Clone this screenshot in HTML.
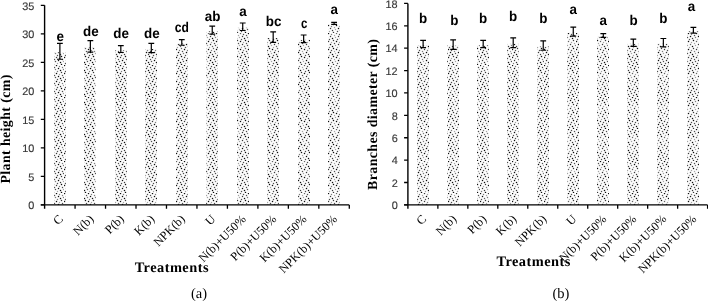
<!DOCTYPE html>
<html><head><meta charset="utf-8"><style>
html,body{margin:0;padding:0;background:#fff;width:708px;height:301px;overflow:hidden}
svg{display:block;will-change:transform;text-rendering:geometricPrecision}
.yt{font-family:"Liberation Sans",sans-serif;font-size:10.9px;fill:#383838;stroke:#383838;stroke-width:0.15px;text-anchor:end}
.lt{font-family:"Liberation Sans",sans-serif;font-size:13.4px;font-weight:bold;fill:#000;text-anchor:middle}
.xl{font-family:"Liberation Serif",serif;font-size:12.2px;fill:#000;text-anchor:end}
.yti{font-family:"Liberation Serif",serif;font-size:13.9px;letter-spacing:0.4px;font-weight:bold;fill:#000;text-anchor:middle}
.tre{font-family:"Liberation Serif",serif;font-size:14.4px;letter-spacing:0.45px;font-weight:bold;fill:#000;text-anchor:middle}
.sub{font-family:"Liberation Serif",serif;font-size:14.5px;fill:#000;text-anchor:middle}
</style></head><body>
<svg width="708" height="301" viewBox="0 0 708 301">
<defs><filter id="bl" x="-10%" y="-2%" width="120%" height="104%"><feGaussianBlur stdDeviation="0.55"/></filter><pattern id="pL" patternUnits="userSpaceOnUse" x="0" y="1" width="32" height="32"><rect x="-0.15" y="-0.15" width="1.3" height="1.3" fill="rgb(15,15,15)"/><rect x="7.85" y="-0.15" width="1.3" height="1.3" fill="rgb(15,15,15)"/><rect x="15.85" y="-0.15" width="1.3" height="1.3" fill="rgb(100,100,100)"/><rect x="23.85" y="-0.15" width="1.3" height="1.3" fill="rgb(15,15,15)"/><rect x="2.85" y="0.85" width="1.3" height="1.3" fill="rgb(125,125,125)"/><rect x="10.85" y="0.85" width="1.3" height="1.3" fill="rgb(125,125,125)"/><rect x="18.85" y="0.85" width="1.3" height="1.3" fill="rgb(80,80,80)"/><rect x="26.85" y="0.85" width="1.3" height="1.3" fill="rgb(125,125,125)"/><rect x="5.85" y="1.85" width="1.3" height="1.3" fill="rgb(125,125,125)"/><rect x="13.85" y="1.85" width="1.3" height="1.3" fill="rgb(165,165,165)"/><rect x="21.85" y="1.85" width="1.3" height="1.3" fill="rgb(80,80,80)"/><rect x="29.85" y="1.85" width="1.3" height="1.3" fill="rgb(125,125,125)"/><rect x="1.85" y="2.85" width="1.3" height="1.3" fill="rgb(15,15,15)"/><rect x="9.85" y="2.85" width="1.3" height="1.3" fill="rgb(55,55,55)"/><rect x="17.85" y="2.85" width="1.3" height="1.3" fill="rgb(55,55,55)"/><rect x="25.85" y="2.85" width="1.3" height="1.3" fill="rgb(15,15,15)"/><rect x="6.85" y="3.85" width="1.3" height="1.3" fill="rgb(165,165,165)"/><rect x="14.85" y="3.85" width="1.3" height="1.3" fill="rgb(165,165,165)"/><rect x="22.85" y="3.85" width="1.3" height="1.3" fill="rgb(125,125,125)"/><rect x="30.85" y="3.85" width="1.3" height="1.3" fill="rgb(125,125,125)"/><rect x="3.85" y="4.85" width="1.3" height="1.3" fill="rgb(15,15,15)"/><rect x="11.85" y="4.85" width="1.3" height="1.3" fill="rgb(15,15,15)"/><rect x="19.85" y="4.85" width="1.3" height="1.3" fill="rgb(15,15,15)"/><rect x="27.85" y="4.85" width="1.3" height="1.3" fill="rgb(15,15,15)"/><rect x="0.85" y="5.85" width="1.3" height="1.3" fill="rgb(80,80,80)"/><rect x="8.85" y="5.85" width="1.3" height="1.3" fill="rgb(80,80,80)"/><rect x="16.85" y="5.85" width="1.3" height="1.3" fill="rgb(80,80,80)"/><rect x="24.85" y="5.85" width="1.3" height="1.3" fill="rgb(125,125,125)"/><rect x="4.85" y="6.85" width="1.3" height="1.3" fill="rgb(15,15,15)"/><rect x="12.85" y="6.85" width="1.3" height="1.3" fill="rgb(55,55,55)"/><rect x="20.85" y="6.85" width="1.3" height="1.3" fill="rgb(15,15,15)"/><rect x="28.85" y="6.85" width="1.3" height="1.3" fill="rgb(55,55,55)"/><rect x="-0.15" y="7.85" width="1.3" height="1.3" fill="rgb(15,15,15)"/><rect x="7.85" y="7.85" width="1.3" height="1.3" fill="rgb(55,55,55)"/><rect x="15.85" y="7.85" width="1.3" height="1.3" fill="rgb(15,15,15)"/><rect x="23.85" y="7.85" width="1.3" height="1.3" fill="rgb(15,15,15)"/><rect x="2.85" y="8.85" width="1.3" height="1.3" fill="rgb(165,165,165)"/><rect x="10.85" y="8.85" width="1.3" height="1.3" fill="rgb(165,165,165)"/><rect x="18.85" y="8.85" width="1.3" height="1.3" fill="rgb(165,165,165)"/><rect x="26.85" y="8.85" width="1.3" height="1.3" fill="rgb(165,165,165)"/><rect x="5.85" y="9.85" width="1.3" height="1.3" fill="rgb(125,125,125)"/><rect x="13.85" y="9.85" width="1.3" height="1.3" fill="rgb(80,80,80)"/><rect x="21.85" y="9.85" width="1.3" height="1.3" fill="rgb(80,80,80)"/><rect x="29.85" y="9.85" width="1.3" height="1.3" fill="rgb(80,80,80)"/><rect x="1.85" y="10.85" width="1.3" height="1.3" fill="rgb(55,55,55)"/><rect x="9.85" y="10.85" width="1.3" height="1.3" fill="rgb(15,15,15)"/><rect x="17.85" y="10.85" width="1.3" height="1.3" fill="rgb(55,55,55)"/><rect x="25.85" y="10.85" width="1.3" height="1.3" fill="rgb(15,15,15)"/><rect x="6.85" y="11.85" width="1.3" height="1.3" fill="rgb(165,165,165)"/><rect x="14.85" y="11.85" width="1.3" height="1.3" fill="rgb(165,165,165)"/><rect x="22.85" y="11.85" width="1.3" height="1.3" fill="rgb(80,80,80)"/><rect x="30.85" y="11.85" width="1.3" height="1.3" fill="rgb(80,80,80)"/><rect x="3.85" y="12.85" width="1.3" height="1.3" fill="rgb(100,100,100)"/><rect x="11.85" y="12.85" width="1.3" height="1.3" fill="rgb(15,15,15)"/><rect x="19.85" y="12.85" width="1.3" height="1.3" fill="rgb(100,100,100)"/><rect x="27.85" y="12.85" width="1.3" height="1.3" fill="rgb(15,15,15)"/><rect x="0.85" y="13.85" width="1.3" height="1.3" fill="rgb(80,80,80)"/><rect x="8.85" y="13.85" width="1.3" height="1.3" fill="rgb(125,125,125)"/><rect x="16.85" y="13.85" width="1.3" height="1.3" fill="rgb(165,165,165)"/><rect x="24.85" y="13.85" width="1.3" height="1.3" fill="rgb(80,80,80)"/><rect x="4.85" y="14.85" width="1.3" height="1.3" fill="rgb(15,15,15)"/><rect x="12.85" y="14.85" width="1.3" height="1.3" fill="rgb(15,15,15)"/><rect x="20.85" y="14.85" width="1.3" height="1.3" fill="rgb(100,100,100)"/><rect x="28.85" y="14.85" width="1.3" height="1.3" fill="rgb(55,55,55)"/><rect x="-0.15" y="15.85" width="1.3" height="1.3" fill="rgb(15,15,15)"/><rect x="7.85" y="15.85" width="1.3" height="1.3" fill="rgb(15,15,15)"/><rect x="15.85" y="15.85" width="1.3" height="1.3" fill="rgb(15,15,15)"/><rect x="23.85" y="15.85" width="1.3" height="1.3" fill="rgb(15,15,15)"/><rect x="2.85" y="16.85" width="1.3" height="1.3" fill="rgb(165,165,165)"/><rect x="10.85" y="16.85" width="1.3" height="1.3" fill="rgb(80,80,80)"/><rect x="18.85" y="16.85" width="1.3" height="1.3" fill="rgb(125,125,125)"/><rect x="26.85" y="16.85" width="1.3" height="1.3" fill="rgb(125,125,125)"/><rect x="5.85" y="17.85" width="1.3" height="1.3" fill="rgb(80,80,80)"/><rect x="13.85" y="17.85" width="1.3" height="1.3" fill="rgb(165,165,165)"/><rect x="21.85" y="17.85" width="1.3" height="1.3" fill="rgb(80,80,80)"/><rect x="29.85" y="17.85" width="1.3" height="1.3" fill="rgb(125,125,125)"/><rect x="1.85" y="18.85" width="1.3" height="1.3" fill="rgb(15,15,15)"/><rect x="9.85" y="18.85" width="1.3" height="1.3" fill="rgb(15,15,15)"/><rect x="17.85" y="18.85" width="1.3" height="1.3" fill="rgb(15,15,15)"/><rect x="25.85" y="18.85" width="1.3" height="1.3" fill="rgb(15,15,15)"/><rect x="6.85" y="19.85" width="1.3" height="1.3" fill="rgb(165,165,165)"/><rect x="14.85" y="19.85" width="1.3" height="1.3" fill="rgb(165,165,165)"/><rect x="22.85" y="19.85" width="1.3" height="1.3" fill="rgb(125,125,125)"/><rect x="30.85" y="19.85" width="1.3" height="1.3" fill="rgb(165,165,165)"/><rect x="3.85" y="20.85" width="1.3" height="1.3" fill="rgb(15,15,15)"/><rect x="11.85" y="20.85" width="1.3" height="1.3" fill="rgb(15,15,15)"/><rect x="19.85" y="20.85" width="1.3" height="1.3" fill="rgb(55,55,55)"/><rect x="27.85" y="20.85" width="1.3" height="1.3" fill="rgb(55,55,55)"/><rect x="0.85" y="21.85" width="1.3" height="1.3" fill="rgb(80,80,80)"/><rect x="8.85" y="21.85" width="1.3" height="1.3" fill="rgb(165,165,165)"/><rect x="16.85" y="21.85" width="1.3" height="1.3" fill="rgb(80,80,80)"/><rect x="24.85" y="21.85" width="1.3" height="1.3" fill="rgb(80,80,80)"/><rect x="4.85" y="22.85" width="1.3" height="1.3" fill="rgb(55,55,55)"/><rect x="12.85" y="22.85" width="1.3" height="1.3" fill="rgb(15,15,15)"/><rect x="20.85" y="22.85" width="1.3" height="1.3" fill="rgb(15,15,15)"/><rect x="28.85" y="22.85" width="1.3" height="1.3" fill="rgb(15,15,15)"/><rect x="-0.15" y="23.85" width="1.3" height="1.3" fill="rgb(15,15,15)"/><rect x="7.85" y="23.85" width="1.3" height="1.3" fill="rgb(15,15,15)"/><rect x="15.85" y="23.85" width="1.3" height="1.3" fill="rgb(15,15,15)"/><rect x="23.85" y="23.85" width="1.3" height="1.3" fill="rgb(55,55,55)"/><rect x="2.85" y="24.85" width="1.3" height="1.3" fill="rgb(125,125,125)"/><rect x="10.85" y="24.85" width="1.3" height="1.3" fill="rgb(125,125,125)"/><rect x="18.85" y="24.85" width="1.3" height="1.3" fill="rgb(165,165,165)"/><rect x="26.85" y="24.85" width="1.3" height="1.3" fill="rgb(125,125,125)"/><rect x="5.85" y="25.85" width="1.3" height="1.3" fill="rgb(125,125,125)"/><rect x="13.85" y="25.85" width="1.3" height="1.3" fill="rgb(165,165,165)"/><rect x="21.85" y="25.85" width="1.3" height="1.3" fill="rgb(80,80,80)"/><rect x="29.85" y="25.85" width="1.3" height="1.3" fill="rgb(80,80,80)"/><rect x="1.85" y="26.85" width="1.3" height="1.3" fill="rgb(100,100,100)"/><rect x="9.85" y="26.85" width="1.3" height="1.3" fill="rgb(55,55,55)"/><rect x="17.85" y="26.85" width="1.3" height="1.3" fill="rgb(15,15,15)"/><rect x="25.85" y="26.85" width="1.3" height="1.3" fill="rgb(15,15,15)"/><rect x="6.85" y="27.85" width="1.3" height="1.3" fill="rgb(165,165,165)"/><rect x="14.85" y="27.85" width="1.3" height="1.3" fill="rgb(165,165,165)"/><rect x="22.85" y="27.85" width="1.3" height="1.3" fill="rgb(80,80,80)"/><rect x="30.85" y="27.85" width="1.3" height="1.3" fill="rgb(165,165,165)"/><rect x="3.85" y="28.85" width="1.3" height="1.3" fill="rgb(55,55,55)"/><rect x="11.85" y="28.85" width="1.3" height="1.3" fill="rgb(55,55,55)"/><rect x="19.85" y="28.85" width="1.3" height="1.3" fill="rgb(15,15,15)"/><rect x="27.85" y="28.85" width="1.3" height="1.3" fill="rgb(15,15,15)"/><rect x="0.85" y="29.85" width="1.3" height="1.3" fill="rgb(80,80,80)"/><rect x="8.85" y="29.85" width="1.3" height="1.3" fill="rgb(165,165,165)"/><rect x="16.85" y="29.85" width="1.3" height="1.3" fill="rgb(80,80,80)"/><rect x="24.85" y="29.85" width="1.3" height="1.3" fill="rgb(165,165,165)"/><rect x="4.85" y="30.85" width="1.3" height="1.3" fill="rgb(15,15,15)"/><rect x="12.85" y="30.85" width="1.3" height="1.3" fill="rgb(55,55,55)"/><rect x="20.85" y="30.85" width="1.3" height="1.3" fill="rgb(15,15,15)"/><rect x="28.85" y="30.85" width="1.3" height="1.3" fill="rgb(15,15,15)"/></pattern><pattern id="pR" patternUnits="userSpaceOnUse" x="0" y="1" width="32" height="32"><rect x="-0.15" y="-0.15" width="1.3" height="1.3" fill="rgb(15,15,15)"/><rect x="7.85" y="-0.15" width="1.3" height="1.3" fill="rgb(55,55,55)"/><rect x="15.85" y="-0.15" width="1.3" height="1.3" fill="rgb(15,15,15)"/><rect x="23.85" y="-0.15" width="1.3" height="1.3" fill="rgb(15,15,15)"/><rect x="2.85" y="0.85" width="1.3" height="1.3" fill="rgb(125,125,125)"/><rect x="10.85" y="0.85" width="1.3" height="1.3" fill="rgb(165,165,165)"/><rect x="18.85" y="0.85" width="1.3" height="1.3" fill="rgb(125,125,125)"/><rect x="26.85" y="0.85" width="1.3" height="1.3" fill="rgb(80,80,80)"/><rect x="5.85" y="1.85" width="1.3" height="1.3" fill="rgb(165,165,165)"/><rect x="13.85" y="1.85" width="1.3" height="1.3" fill="rgb(80,80,80)"/><rect x="21.85" y="1.85" width="1.3" height="1.3" fill="rgb(80,80,80)"/><rect x="29.85" y="1.85" width="1.3" height="1.3" fill="rgb(80,80,80)"/><rect x="1.85" y="2.85" width="1.3" height="1.3" fill="rgb(15,15,15)"/><rect x="9.85" y="2.85" width="1.3" height="1.3" fill="rgb(15,15,15)"/><rect x="17.85" y="2.85" width="1.3" height="1.3" fill="rgb(15,15,15)"/><rect x="25.85" y="2.85" width="1.3" height="1.3" fill="rgb(15,15,15)"/><rect x="6.85" y="3.85" width="1.3" height="1.3" fill="rgb(125,125,125)"/><rect x="14.85" y="3.85" width="1.3" height="1.3" fill="rgb(80,80,80)"/><rect x="22.85" y="3.85" width="1.3" height="1.3" fill="rgb(125,125,125)"/><rect x="30.85" y="3.85" width="1.3" height="1.3" fill="rgb(165,165,165)"/><rect x="3.85" y="4.85" width="1.3" height="1.3" fill="rgb(100,100,100)"/><rect x="11.85" y="4.85" width="1.3" height="1.3" fill="rgb(55,55,55)"/><rect x="19.85" y="4.85" width="1.3" height="1.3" fill="rgb(55,55,55)"/><rect x="27.85" y="4.85" width="1.3" height="1.3" fill="rgb(15,15,15)"/><rect x="0.85" y="5.85" width="1.3" height="1.3" fill="rgb(80,80,80)"/><rect x="8.85" y="5.85" width="1.3" height="1.3" fill="rgb(80,80,80)"/><rect x="16.85" y="5.85" width="1.3" height="1.3" fill="rgb(80,80,80)"/><rect x="24.85" y="5.85" width="1.3" height="1.3" fill="rgb(165,165,165)"/><rect x="4.85" y="6.85" width="1.3" height="1.3" fill="rgb(55,55,55)"/><rect x="12.85" y="6.85" width="1.3" height="1.3" fill="rgb(100,100,100)"/><rect x="20.85" y="6.85" width="1.3" height="1.3" fill="rgb(15,15,15)"/><rect x="28.85" y="6.85" width="1.3" height="1.3" fill="rgb(55,55,55)"/><rect x="-0.15" y="7.85" width="1.3" height="1.3" fill="rgb(15,15,15)"/><rect x="7.85" y="7.85" width="1.3" height="1.3" fill="rgb(55,55,55)"/><rect x="15.85" y="7.85" width="1.3" height="1.3" fill="rgb(15,15,15)"/><rect x="23.85" y="7.85" width="1.3" height="1.3" fill="rgb(100,100,100)"/><rect x="2.85" y="8.85" width="1.3" height="1.3" fill="rgb(80,80,80)"/><rect x="10.85" y="8.85" width="1.3" height="1.3" fill="rgb(125,125,125)"/><rect x="18.85" y="8.85" width="1.3" height="1.3" fill="rgb(165,165,165)"/><rect x="26.85" y="8.85" width="1.3" height="1.3" fill="rgb(165,165,165)"/><rect x="5.85" y="9.85" width="1.3" height="1.3" fill="rgb(165,165,165)"/><rect x="13.85" y="9.85" width="1.3" height="1.3" fill="rgb(165,165,165)"/><rect x="21.85" y="9.85" width="1.3" height="1.3" fill="rgb(165,165,165)"/><rect x="29.85" y="9.85" width="1.3" height="1.3" fill="rgb(165,165,165)"/><rect x="1.85" y="10.85" width="1.3" height="1.3" fill="rgb(15,15,15)"/><rect x="9.85" y="10.85" width="1.3" height="1.3" fill="rgb(55,55,55)"/><rect x="17.85" y="10.85" width="1.3" height="1.3" fill="rgb(100,100,100)"/><rect x="25.85" y="10.85" width="1.3" height="1.3" fill="rgb(55,55,55)"/><rect x="6.85" y="11.85" width="1.3" height="1.3" fill="rgb(125,125,125)"/><rect x="14.85" y="11.85" width="1.3" height="1.3" fill="rgb(165,165,165)"/><rect x="22.85" y="11.85" width="1.3" height="1.3" fill="rgb(165,165,165)"/><rect x="30.85" y="11.85" width="1.3" height="1.3" fill="rgb(125,125,125)"/><rect x="3.85" y="12.85" width="1.3" height="1.3" fill="rgb(55,55,55)"/><rect x="11.85" y="12.85" width="1.3" height="1.3" fill="rgb(15,15,15)"/><rect x="19.85" y="12.85" width="1.3" height="1.3" fill="rgb(15,15,15)"/><rect x="27.85" y="12.85" width="1.3" height="1.3" fill="rgb(55,55,55)"/><rect x="0.85" y="13.85" width="1.3" height="1.3" fill="rgb(80,80,80)"/><rect x="8.85" y="13.85" width="1.3" height="1.3" fill="rgb(125,125,125)"/><rect x="16.85" y="13.85" width="1.3" height="1.3" fill="rgb(165,165,165)"/><rect x="24.85" y="13.85" width="1.3" height="1.3" fill="rgb(165,165,165)"/><rect x="4.85" y="14.85" width="1.3" height="1.3" fill="rgb(55,55,55)"/><rect x="12.85" y="14.85" width="1.3" height="1.3" fill="rgb(15,15,15)"/><rect x="20.85" y="14.85" width="1.3" height="1.3" fill="rgb(55,55,55)"/><rect x="28.85" y="14.85" width="1.3" height="1.3" fill="rgb(15,15,15)"/><rect x="-0.15" y="15.85" width="1.3" height="1.3" fill="rgb(15,15,15)"/><rect x="7.85" y="15.85" width="1.3" height="1.3" fill="rgb(55,55,55)"/><rect x="15.85" y="15.85" width="1.3" height="1.3" fill="rgb(15,15,15)"/><rect x="23.85" y="15.85" width="1.3" height="1.3" fill="rgb(55,55,55)"/><rect x="2.85" y="16.85" width="1.3" height="1.3" fill="rgb(80,80,80)"/><rect x="10.85" y="16.85" width="1.3" height="1.3" fill="rgb(125,125,125)"/><rect x="18.85" y="16.85" width="1.3" height="1.3" fill="rgb(125,125,125)"/><rect x="26.85" y="16.85" width="1.3" height="1.3" fill="rgb(80,80,80)"/><rect x="5.85" y="17.85" width="1.3" height="1.3" fill="rgb(125,125,125)"/><rect x="13.85" y="17.85" width="1.3" height="1.3" fill="rgb(125,125,125)"/><rect x="21.85" y="17.85" width="1.3" height="1.3" fill="rgb(125,125,125)"/><rect x="29.85" y="17.85" width="1.3" height="1.3" fill="rgb(165,165,165)"/><rect x="1.85" y="18.85" width="1.3" height="1.3" fill="rgb(15,15,15)"/><rect x="9.85" y="18.85" width="1.3" height="1.3" fill="rgb(15,15,15)"/><rect x="17.85" y="18.85" width="1.3" height="1.3" fill="rgb(15,15,15)"/><rect x="25.85" y="18.85" width="1.3" height="1.3" fill="rgb(55,55,55)"/><rect x="6.85" y="19.85" width="1.3" height="1.3" fill="rgb(80,80,80)"/><rect x="14.85" y="19.85" width="1.3" height="1.3" fill="rgb(80,80,80)"/><rect x="22.85" y="19.85" width="1.3" height="1.3" fill="rgb(165,165,165)"/><rect x="30.85" y="19.85" width="1.3" height="1.3" fill="rgb(125,125,125)"/><rect x="3.85" y="20.85" width="1.3" height="1.3" fill="rgb(15,15,15)"/><rect x="11.85" y="20.85" width="1.3" height="1.3" fill="rgb(55,55,55)"/><rect x="19.85" y="20.85" width="1.3" height="1.3" fill="rgb(15,15,15)"/><rect x="27.85" y="20.85" width="1.3" height="1.3" fill="rgb(55,55,55)"/><rect x="0.85" y="21.85" width="1.3" height="1.3" fill="rgb(80,80,80)"/><rect x="8.85" y="21.85" width="1.3" height="1.3" fill="rgb(125,125,125)"/><rect x="16.85" y="21.85" width="1.3" height="1.3" fill="rgb(165,165,165)"/><rect x="24.85" y="21.85" width="1.3" height="1.3" fill="rgb(165,165,165)"/><rect x="4.85" y="22.85" width="1.3" height="1.3" fill="rgb(55,55,55)"/><rect x="12.85" y="22.85" width="1.3" height="1.3" fill="rgb(15,15,15)"/><rect x="20.85" y="22.85" width="1.3" height="1.3" fill="rgb(15,15,15)"/><rect x="28.85" y="22.85" width="1.3" height="1.3" fill="rgb(15,15,15)"/><rect x="-0.15" y="23.85" width="1.3" height="1.3" fill="rgb(15,15,15)"/><rect x="7.85" y="23.85" width="1.3" height="1.3" fill="rgb(15,15,15)"/><rect x="15.85" y="23.85" width="1.3" height="1.3" fill="rgb(55,55,55)"/><rect x="23.85" y="23.85" width="1.3" height="1.3" fill="rgb(55,55,55)"/><rect x="2.85" y="24.85" width="1.3" height="1.3" fill="rgb(165,165,165)"/><rect x="10.85" y="24.85" width="1.3" height="1.3" fill="rgb(165,165,165)"/><rect x="18.85" y="24.85" width="1.3" height="1.3" fill="rgb(80,80,80)"/><rect x="26.85" y="24.85" width="1.3" height="1.3" fill="rgb(80,80,80)"/><rect x="5.85" y="25.85" width="1.3" height="1.3" fill="rgb(125,125,125)"/><rect x="13.85" y="25.85" width="1.3" height="1.3" fill="rgb(80,80,80)"/><rect x="21.85" y="25.85" width="1.3" height="1.3" fill="rgb(80,80,80)"/><rect x="29.85" y="25.85" width="1.3" height="1.3" fill="rgb(125,125,125)"/><rect x="1.85" y="26.85" width="1.3" height="1.3" fill="rgb(55,55,55)"/><rect x="9.85" y="26.85" width="1.3" height="1.3" fill="rgb(15,15,15)"/><rect x="17.85" y="26.85" width="1.3" height="1.3" fill="rgb(15,15,15)"/><rect x="25.85" y="26.85" width="1.3" height="1.3" fill="rgb(55,55,55)"/><rect x="6.85" y="27.85" width="1.3" height="1.3" fill="rgb(165,165,165)"/><rect x="14.85" y="27.85" width="1.3" height="1.3" fill="rgb(125,125,125)"/><rect x="22.85" y="27.85" width="1.3" height="1.3" fill="rgb(80,80,80)"/><rect x="30.85" y="27.85" width="1.3" height="1.3" fill="rgb(80,80,80)"/><rect x="3.85" y="28.85" width="1.3" height="1.3" fill="rgb(55,55,55)"/><rect x="11.85" y="28.85" width="1.3" height="1.3" fill="rgb(15,15,15)"/><rect x="19.85" y="28.85" width="1.3" height="1.3" fill="rgb(55,55,55)"/><rect x="27.85" y="28.85" width="1.3" height="1.3" fill="rgb(15,15,15)"/><rect x="0.85" y="29.85" width="1.3" height="1.3" fill="rgb(125,125,125)"/><rect x="8.85" y="29.85" width="1.3" height="1.3" fill="rgb(165,165,165)"/><rect x="16.85" y="29.85" width="1.3" height="1.3" fill="rgb(80,80,80)"/><rect x="24.85" y="29.85" width="1.3" height="1.3" fill="rgb(80,80,80)"/><rect x="4.85" y="30.85" width="1.3" height="1.3" fill="rgb(15,15,15)"/><rect x="12.85" y="30.85" width="1.3" height="1.3" fill="rgb(15,15,15)"/><rect x="20.85" y="30.85" width="1.3" height="1.3" fill="rgb(55,55,55)"/><rect x="28.85" y="30.85" width="1.3" height="1.3" fill="rgb(15,15,15)"/></pattern></defs>
<rect x="54" y="52.33" width="12" height="152.57" fill="url(#pL)" filter="url(#bl)"/>
<rect x="84" y="47.45" width="12" height="157.45" fill="url(#pL)" filter="url(#bl)"/>
<rect x="115" y="50.1" width="12" height="154.8" fill="url(#pL)" filter="url(#bl)"/>
<rect x="145" y="49" width="12" height="155.9" fill="url(#pL)" filter="url(#bl)"/>
<rect x="176" y="43.42" width="12" height="161.48" fill="url(#pL)" filter="url(#bl)"/>
<rect x="206" y="31.2" width="12" height="173.7" fill="url(#pL)" filter="url(#bl)"/>
<rect x="237" y="27.75" width="12" height="177.15" fill="url(#pL)" filter="url(#bl)"/>
<rect x="267" y="38.1" width="12" height="166.8" fill="url(#pL)" filter="url(#bl)"/>
<rect x="298" y="39.85" width="12" height="165.05" fill="url(#pL)" filter="url(#bl)"/>
<rect x="328" y="24.4" width="12" height="180.5" fill="url(#pL)" filter="url(#bl)"/>
<path d="M44.6 5.3V208.8M40.8 204.9H349.3" stroke="#000" stroke-width="1.4" fill="none"/>
<text x="34.4" y="209.1" class="yt">0</text>
<text x="34.4" y="180.59" class="yt">5</text>
<text x="34.4" y="152.07" class="yt">10</text>
<text x="34.4" y="123.56" class="yt">15</text>
<text x="34.4" y="95.04" class="yt">20</text>
<text x="34.4" y="66.53" class="yt">25</text>
<text x="34.4" y="38.01" class="yt">30</text>
<text x="34.4" y="9.5" class="yt">35</text>
<path d="M40.8 204.9H44.6M40.8 176.39H44.6M40.8 147.87H44.6M40.8 119.36H44.6M40.8 90.84H44.6M40.8 62.33H44.6M40.8 33.81H44.6M40.8 5.3H44.6M75.07 204.9V208.8M105.54 204.9V208.8M136.01 204.9V208.8M166.48 204.9V208.8M196.95 204.9V208.8M227.42 204.9V208.8M257.89 204.9V208.8M288.36 204.9V208.8M318.83 204.9V208.8M349.3 204.9V208.8" stroke="#000" stroke-width="1.3" fill="none"/>
<path d="M59.89 43.4V59.25M56.99 43.4H62.79M56.99 59.25H62.79M90.36 40.7V52.2M87.46 40.7H93.27M87.46 52.2H93.27M120.83 45.7V52.5M117.93 45.7H123.73M117.93 52.5H123.73M151.31 43.3V52.7M148.41 43.3H154.21M148.41 52.7H154.21M181.78 39.6V45.25M178.88 39.6H184.68M178.88 45.25H184.68M212.24 26.2V34.2M209.34 26.2H215.14M209.34 34.2H215.14M242.72 23V30.5M239.81 23H245.62M239.81 30.5H245.62M273.18 31.9V42.3M270.28 31.9H276.08M270.28 42.3H276.08M303.65 35V42.7M300.75 35H306.55M300.75 42.7H306.55M334.12 22.45V24.35M331.23 22.45H337.02M331.23 24.35H337.02" stroke="#000" stroke-width="1.2" fill="none"/>
<text transform="translate(60.19 40.8) scale(1 1.05)" class="lt">e</text>
<text transform="translate(90.86 35.7) scale(1 1.05)" class="lt">de</text>
<text transform="translate(121.13 38.4) scale(1 1.05)" class="lt">de</text>
<text transform="translate(151.81 37.9) scale(1 1.05)" class="lt">de</text>
<text transform="translate(181.78 31.9) scale(0.9 1.05)" class="lt">cd</text>
<text transform="translate(212.54 20.7) scale(1 1.05)" class="lt">ab</text>
<text transform="translate(243.02 16.3) scale(1 1.05)" class="lt">a</text>
<text transform="translate(273.68 26.4) scale(1 1.05)" class="lt">bc</text>
<text transform="translate(304.25 28.4) scale(0.85 1.05)" class="lt">c</text>
<text transform="translate(334.32 13.5) scale(1 1.05)" class="lt">a</text>
<text x="63.79" y="219.7" class="xl" transform="rotate(-45 63.79 219.7)">C</text>
<text x="94.27" y="219.7" class="xl" transform="rotate(-45 94.27 219.7)">N(b)</text>
<text x="124.73" y="219.7" class="xl" transform="rotate(-45 124.73 219.7)">P(b)</text>
<text x="155.21" y="219.7" class="xl" transform="rotate(-45 155.21 219.7)">K(b)</text>
<text x="185.68" y="219.7" class="xl" transform="rotate(-45 185.68 219.7)">NPK(b)</text>
<text x="216.14" y="219.7" class="xl" transform="rotate(-45 216.14 219.7)">U</text>
<text x="246.62" y="219.7" class="xl" transform="rotate(-45 246.62 219.7)">N(b)+U50%</text>
<text x="277.08" y="219.7" class="xl" transform="rotate(-45 277.08 219.7)">P(b)+U50%</text>
<text x="307.55" y="219.7" class="xl" transform="rotate(-45 307.55 219.7)">K(b)+U50%</text>
<text x="338.02" y="219.7" class="xl" transform="rotate(-45 338.02 219.7)">NPK(b)+U50%</text>
<text x="10.5" y="128.9" class="yti" transform="rotate(-90 10.5 128.9)">Plant height (cm)</text>
<text x="171.8" y="272.2" class="tre">Treatments</text>
<text x="199" y="298" class="sub">(a)</text>
<rect x="417" y="45.05" width="12" height="159.85" fill="url(#pR)" filter="url(#bl)"/>
<rect x="447" y="45.55" width="12" height="159.35" fill="url(#pR)" filter="url(#bl)"/>
<rect x="477" y="45.05" width="12" height="159.85" fill="url(#pR)" filter="url(#bl)"/>
<rect x="507" y="43.8" width="12" height="161.1" fill="url(#pR)" filter="url(#bl)"/>
<rect x="537" y="46.52" width="12" height="158.38" fill="url(#pR)" filter="url(#bl)"/>
<rect x="567" y="32.7" width="12" height="172.2" fill="url(#pR)" filter="url(#bl)"/>
<rect x="597" y="36.45" width="12" height="168.45" fill="url(#pR)" filter="url(#bl)"/>
<rect x="627" y="43.75" width="12" height="161.15" fill="url(#pR)" filter="url(#bl)"/>
<rect x="657" y="43.65" width="12" height="161.25" fill="url(#pR)" filter="url(#bl)"/>
<rect x="687" y="31.25" width="12" height="173.65" fill="url(#pR)" filter="url(#bl)"/>
<path d="M407.9 3.4V208.8M404.1 204.9H707.6" stroke="#000" stroke-width="1.4" fill="none"/>
<text x="397.7" y="209.1" class="yt">0</text>
<text x="397.7" y="186.71" class="yt">2</text>
<text x="397.7" y="164.32" class="yt">4</text>
<text x="397.7" y="141.93" class="yt">6</text>
<text x="397.7" y="119.54" class="yt">8</text>
<text x="397.7" y="97.16" class="yt">10</text>
<text x="397.7" y="74.77" class="yt">12</text>
<text x="397.7" y="52.38" class="yt">14</text>
<text x="397.7" y="29.99" class="yt">16</text>
<text x="397.7" y="7.6" class="yt">18</text>
<path d="M404.1 204.9H407.9M404.1 182.51H407.9M404.1 160.12H407.9M404.1 137.73H407.9M404.1 115.34H407.9M404.1 92.96H407.9M404.1 70.57H407.9M404.1 48.18H407.9M404.1 25.79H407.9M404.1 3.4H407.9M437.87 204.9V208.8M467.84 204.9V208.8M497.81 204.9V208.8M527.78 204.9V208.8M557.75 204.9V208.8M587.72 204.9V208.8M617.69 204.9V208.8M647.66 204.9V208.8M677.63 204.9V208.8M707.6 204.9V208.8" stroke="#000" stroke-width="1.3" fill="none"/>
<path d="M423.12 40.4V47.7M420.22 40.4H426.01M420.22 47.7H426.01M453.15 39.8V49.3M450.25 39.8H456.05M450.25 49.3H456.05M483.18 40.4V47.7M480.28 40.4H486.07M480.28 47.7H486.07M513.21 37.9V47.7M510.31 37.9H516.11M510.31 47.7H516.11M543.24 40.8V50.25M540.34 40.8H546.13M540.34 50.25H546.13M573.27 27.2V36.2M570.37 27.2H576.17M570.37 36.2H576.17M603.3 33.6V37.3M600.4 33.6H606.2M600.4 37.3H606.2M633.33 39.2V46.3M630.43 39.2H636.23M630.43 46.3H636.23M663.36 38.5V46.8M660.46 38.5H666.25M660.46 46.8H666.25M693.38 27.3V33.2M690.49 27.3H696.28M690.49 33.2H696.28" stroke="#000" stroke-width="1.2" fill="none"/>
<text transform="translate(423.12 22.8) scale(1 1.05)" class="lt">b</text>
<text transform="translate(454.35 25) scale(1 1.05)" class="lt">b</text>
<text transform="translate(483.18 23.3) scale(1 1.05)" class="lt">b</text>
<text transform="translate(513.21 20.9) scale(1 1.05)" class="lt">b</text>
<text transform="translate(543.24 22.5) scale(1 1.05)" class="lt">b</text>
<text transform="translate(573.27 13.6) scale(1 1.05)" class="lt">a</text>
<text transform="translate(603.3 25.3) scale(1 1.05)" class="lt">a</text>
<text transform="translate(633.62 24.5) scale(1 1.05)" class="lt">b</text>
<text transform="translate(663.36 22.5) scale(1 1.05)" class="lt">b</text>
<text transform="translate(691.38 10.7) scale(1 1.05)" class="lt">a</text>
<text x="427.01" y="219.7" class="xl" transform="rotate(-45 427.01 219.7)">C</text>
<text x="457.05" y="219.7" class="xl" transform="rotate(-45 457.05 219.7)">N(b)</text>
<text x="487.07" y="219.7" class="xl" transform="rotate(-45 487.07 219.7)">P(b)</text>
<text x="517.11" y="219.7" class="xl" transform="rotate(-45 517.11 219.7)">K(b)</text>
<text x="547.13" y="219.7" class="xl" transform="rotate(-45 547.13 219.7)">NPK(b)</text>
<text x="577.17" y="219.7" class="xl" transform="rotate(-45 577.17 219.7)">U</text>
<text x="607.2" y="219.7" class="xl" transform="rotate(-45 607.2 219.7)">N(b)+U50%</text>
<text x="637.23" y="219.7" class="xl" transform="rotate(-45 637.23 219.7)">P(b)+U50%</text>
<text x="667.25" y="219.7" class="xl" transform="rotate(-45 667.25 219.7)">K(b)+U50%</text>
<text x="697.28" y="219.7" class="xl" transform="rotate(-45 697.28 219.7)">NPK(b)+U50%</text>
<text x="376.8" y="114.3" class="yti" transform="rotate(-90 376.8 114.3)">Branches diameter (cm)</text>
<text x="533.6" y="266.1" class="tre">Treatments</text>
<text x="561" y="298" class="sub">(b)</text>
</svg>
</body></html>
